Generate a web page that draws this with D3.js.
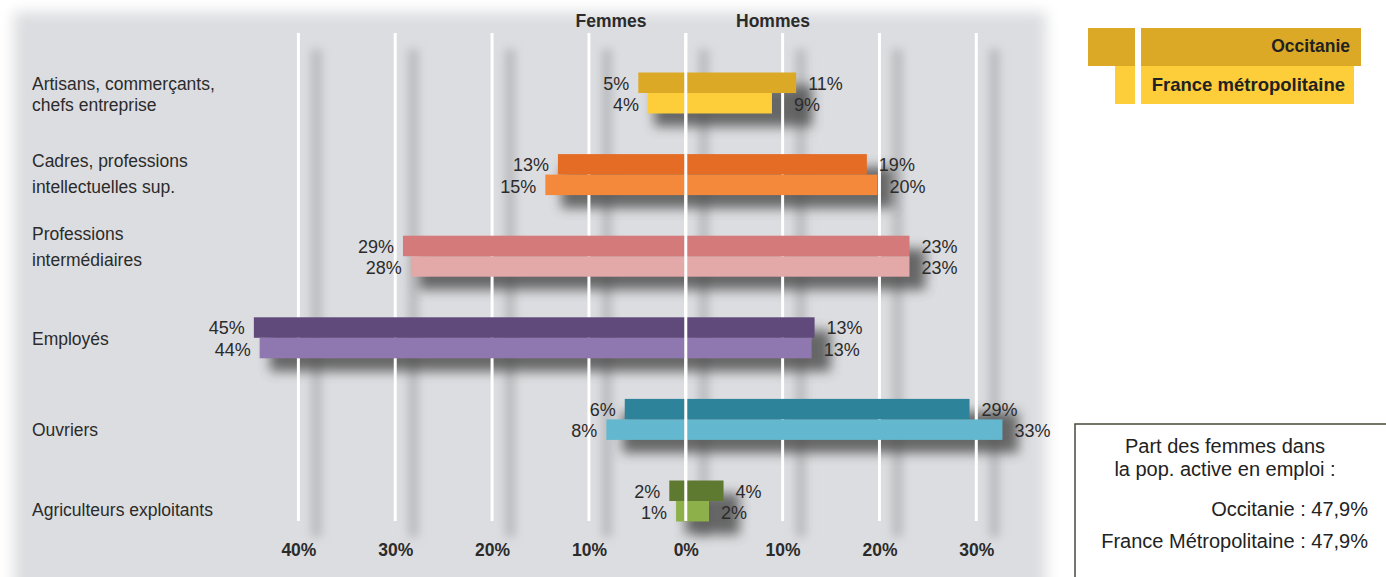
<!DOCTYPE html>
<html>
<head>
<meta charset="utf-8">
<script src="https://cdn.jsdelivr.net/npm/d3@7"></script>
<style>
  body { margin: 0; background: #fff; }
  svg { display: block; font-family: "Liberation Sans", Arial, sans-serif; }
</style>
</head>
<body>
<div id="chart"></div>
<script>
// categories (top to bottom), two-line labels
var categories = ['Artisans', 'Cadres', 'ProfInter', 'Employes', 'Ouvriers', 'Agriculteurs']
var catLabels = [
  ['Artisans, commerçants,', 'chefs entreprise'],
  ['Cadres, professions', 'intellectuelles sup.'],
  ['Professions', 'intermédiaires'],
  ['Employés'],
  ['Ouvriers'],
  ['Agriculteurs exploitants']
]
// share (%) of each sex in each category
var occFemmes = [4.9, 13.2, 29.2, 44.6, 6.3, 1.7]
var occHommes = [11.4, 18.7, 23.1, 13.3, 29.3, 3.9]
var fraFemmes = [3.9, 14.5, 28.4, 44.0, 8.2, 1.0]
var fraHommes = [8.9, 19.8, 23.1, 13.0, 32.7, 2.4]
var occColors = ['#dca927', '#e46c25', '#d47a7a', '#5f4a7b', '#2d8399', '#5e7a31']
var fraColors = ['#fecd3a', '#f5893b', '#e3a9a8', '#8f77b0', '#63b8cf', '#8db04b']
var ticks = [-40, -30, -20, -10, 0, 10, 20, 30]

// label placement tweaks (vertical shift of category text, line gap)
var catShift = [-10, -15, -23, 0, 10, 8]
var catGap = [21, 26, 26, 0, 0, 0]

var W = 1386, H = 577
var svg = d3.select('#chart').append('svg').attr('width', W).attr('height', H)
var defs = svg.append('defs')
defs.append('filter').attr('id', 'soft').attr('x', '-10%').attr('y', '-10%').attr('width', '120%').attr('height', '120%')
  .append('feGaussianBlur').attr('stdDeviation', 7)
defs.append('filter').attr('id', 'shadow').attr('x', '-20%').attr('y', '-60%').attr('width', '140%').attr('height', '220%')
  .append('feGaussianBlur').attr('stdDeviation', 6)
defs.append('filter').attr('id', 'gshadow').attr('x', '-300%').attr('y', '-10%').attr('width', '700%').attr('height', '120%')
  .append('feGaussianBlur').attr('stdDeviation', 5)

// background panel
svg.append('rect').attr('x', 14).attr('y', 12).attr('width', 1032).attr('height', 620)
  .attr('fill', '#dcdde0').attr('filter', 'url(#soft)')
svg.append('rect').attr('x', 28).attr('y', 24).attr('width', 1006).attr('height', 600)
  .attr('fill', '#dcdde0')

var x = d3.scaleLinear().domain([-40, 30]).range([298.4, 976.3])
var y = d3.scalePoint().domain(categories).range([93, 501])
var bh = 20.5
var gridTop = 33, gridBottom = 521

// gridline shadows
svg.append('g').selectAll('rect').data(ticks).join('rect')
  .attr('x', d => x(d) + 13).attr('y', gridTop + 16).attr('width', 10).attr('height', gridBottom - gridTop)
  .attr('fill', '#b8b9bc').attr('filter', 'url(#gshadow)')

// bar shadows
var rows = categories.map(function(c, i) {
  return {cat: c, i: i, of: occFemmes[i], oh: occHommes[i], ff: fraFemmes[i], fh: fraHommes[i]}
})
svg.append('g').selectAll('rect').data(rows).join('rect')
  .attr('x', d => x(-Math.max(d.of, d.ff)) + 16)
  .attr('y', d => y(d.cat) - bh + 13)
  .attr('width', d => x(Math.max(d.oh, d.fh)) - x(-Math.max(d.of, d.ff)))
  .attr('height', bh * 2)
  .attr('fill', '#4a4a4a').attr('opacity', 0.8).attr('filter', 'url(#shadow)')

// gridlines
svg.append('g').selectAll('line').data(ticks).join('line')
  .attr('x1', d => x(d)).attr('x2', d => x(d))
  .attr('y1', gridTop).attr('y2', gridBottom)
  .attr('stroke', '#fff').attr('stroke-width', 3)

// bars
var bars = svg.append('g')
rows.forEach(function(d) {
  var yc = y(d.cat)
  bars.append('rect').attr('x', x(-d.of)).attr('y', yc - bh).attr('width', x(d.oh) - x(-d.of)).attr('height', bh)
    .attr('fill', occColors[d.i])
  bars.append('rect').attr('x', x(-d.ff)).attr('y', yc).attr('width', x(d.fh) - x(-d.ff)).attr('height', bh)
    .attr('fill', fraColors[d.i])
})

// centre line over bars
svg.append('line').attr('x1', x(0)).attr('x2', x(0)).attr('y1', gridTop).attr('y2', gridBottom)
  .attr('stroke', '#fff').attr('stroke-width', 3)

// value labels
var lab = svg.append('g').attr('font-size', 18).attr('fill', '#2b2b2b')
rows.forEach(function(d) {
  var yc = y(d.cat)
  lab.append('text').attr('x', x(-d.of) - 9).attr('y', yc - 3.5).attr('text-anchor', 'end').text(Math.round(d.of) + '%')
  lab.append('text').attr('x', x(-d.ff) - 9).attr('y', yc + 18).attr('text-anchor', 'end').text(Math.round(d.ff) + '%')
  lab.append('text').attr('x', x(d.oh) + 12).attr('y', yc - 3.5).text(Math.round(d.oh) + '%')
  lab.append('text').attr('x', x(d.fh) + (d.i == 0 ? 22 : 12)).attr('y', yc + 18).text(Math.round(d.fh) + '%')
})

// category labels
var cl = svg.append('g').attr('font-size', 17.5).attr('fill', '#2b2b2b')
rows.forEach(function(d) {
  var lines = catLabels[d.i]
  var y0 = y(d.cat) + catShift[d.i] + 7
  lines.forEach(function(t, k) {
    cl.append('text').attr('x', 32).attr('y', y0 + k * catGap[d.i]).text(t)
  })
})

// axis
var axis = svg.append('g').attr('transform', 'translate(0,' + 541 + ')')
  .call(d3.axisBottom(x).tickValues(ticks).tickSize(0).tickFormat(d => Math.abs(d) + '%'))
axis.select('.domain').remove()
axis.selectAll('text').attr('font-size', 17.5).attr('font-weight', 'bold').attr('fill', '#2b2b2b')
  .attr('font-family', '"Liberation Sans", Arial, sans-serif')

// headers
svg.append('text').attr('x', 611).attr('y', 27).attr('text-anchor', 'middle').attr('font-size', 17.5)
  .attr('font-weight', 'bold').attr('fill', '#2b2b2b').text('Femmes')
svg.append('text').attr('x', 773).attr('y', 27).attr('text-anchor', 'middle').attr('font-size', 17.5)
  .attr('font-weight', 'bold').attr('fill', '#2b2b2b').text('Hommes')

// legend
var lg = svg.append('g')
lg.append('rect').attr('x', 1088).attr('y', 28).attr('width', 47).attr('height', 38).attr('fill', occColors[0])
lg.append('rect').attr('x', 1141).attr('y', 28).attr('width', 220).attr('height', 38).attr('fill', occColors[0])
lg.append('rect').attr('x', 1115).attr('y', 66).attr('width', 20).attr('height', 38).attr('fill', fraColors[0])
lg.append('rect').attr('x', 1141).attr('y', 66).attr('width', 213).attr('height', 38).attr('fill', fraColors[0])
lg.append('text').attr('x', 1350).attr('y', 52).attr('text-anchor', 'end').attr('font-size', 17.5)
  .attr('font-weight', 'bold').attr('fill', '#222').text('Occitanie')
lg.append('text').attr('x', 1345).attr('y', 91).attr('text-anchor', 'end').attr('font-size', 18.5)
  .attr('font-weight', 'bold').attr('fill', '#222').text('France métropolitaine')

// note box
var nb = svg.append('g').attr('font-size', 20).attr('fill', '#222')
nb.append('rect').attr('x', 1075).attr('y', 424).attr('width', 330).attr('height', 170)
  .attr('fill', '#fff').attr('stroke', '#4a4838').attr('stroke-width', 1.5)
nb.append('text').attr('x', 1225).attr('y', 453).attr('text-anchor', 'middle').text('Part des femmes dans')
nb.append('text').attr('x', 1225).attr('y', 476).attr('text-anchor', 'middle').text('la pop. active en emploi :')
nb.append('text').attr('x', 1368).attr('y', 516).attr('text-anchor', 'end').text('Occitanie : 47,9%')
nb.append('text').attr('x', 1368).attr('y', 548).attr('text-anchor', 'end').text('France Métropolitaine : 47,9%')
</script>
</body>
</html>
